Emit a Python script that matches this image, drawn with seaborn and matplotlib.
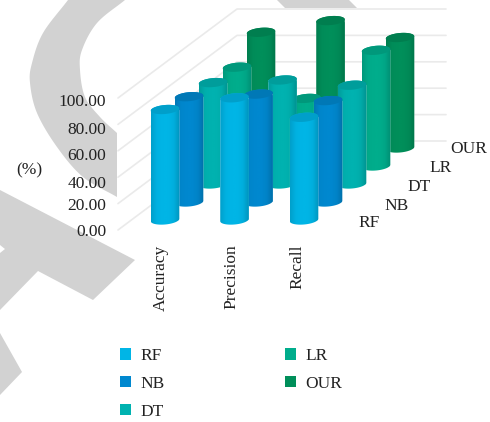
import numpy as np
import pandas as pd
import matplotlib
matplotlib.use("Agg")
import matplotlib.pyplot as plt
from matplotlib.colors import LinearSegmentedColormap, to_rgb
from matplotlib.patches import Patch, Polygon
import seaborn as sns

# ---- values -------------------------------------------------------------
metrics = ["Accuracy", "Precision", "Recall"]
models = ["RF", "NB", "DT", "LR", "OUR"]
rf_scores = [85, 94, 79]
nb_scores = [81, 83, 78]
dt_scores = [78, 80, 76]
lr_scores = [76, 52, 89]
our_scores = [89, 98, 85]
model_colors = ["#00B5E6", "#0088CF", "#00B2B0", "#00AD8C", "#008F5A"]
value_ticks = [0, 20, 40, 60, 80, 100]

scores = pd.DataFrame(
    {"metric": metrics * 5,
     "model": np.repeat(models, 3),
     "score": rf_scores + nb_scores + dt_scores + lr_scores + our_scores}
)

# ---- layout, in pixels ---------------------------------------------------
W, H = 490, 422
PX_PER_UNIT = 1.3
SLOT = 69.5
BAR_PX = 28.5
FRONT_X, FRONT_Y = 165.0, 220.0
DEPTH_X, DEPTH_Y = 24.0, -18.0
ELLIPSE_PX = 9.0
TILT_PX = 1.2
Y_MARGIN = 12  # room above and below the value range for the rounded ends
FONT = 12.5
GRID = "#EAEAEA"
GRAY = "#D2D2D2"

sns.set_theme(style="white")
plt.rcParams["font.family"] = ["Liberation Serif", "DejaVu Serif"]
text_color = "#222222"

fig = plt.figure(figsize=(W / 100, H / 100), dpi=100)
fig.patch.set_facecolor("white")

# Backdrop axes in pixel coordinates: watermark shapes, walls, free labels
bg = fig.add_axes([0, 0, 1, 1])
bg.set_xlim(0, W)
bg.set_ylim(H, 0)
bg.axis("off")


def smooth(points, n=12):
    """Catmull-Rom curve through an open list of points."""
    p = np.array(points, dtype=float)
    p = np.vstack([2 * p[0] - p[1], p, 2 * p[-1] - p[-2]])
    out = []
    for i in range(1, len(p) - 2):
        for t in np.linspace(0, 1, n, endpoint=False):
            out.append(0.5 * (2 * p[i] + (p[i + 1] - p[i - 1]) * t
                              + (2 * p[i - 1] - 5 * p[i] + 4 * p[i + 1] - p[i + 2]) * t ** 2
                              + (3 * p[i] - p[i - 1] - 3 * p[i + 1] + p[i + 2]) * t ** 3))
    out.append(p[-2])
    return np.array(out)


arc_outer = [(68, 0), (43, 33), (32, 63), (30, 83), (37, 113), (57, 147), (83, 177), (117, 197)]
arc_inner = [(117, 133), (100, 117), (85, 97), (80, 70), (82, 50), (97, 23), (125, 0)]
watermark = [
    np.vstack([smooth(arc_outer), smooth(arc_inner)]),
    [(0, 190), (135, 260), (93, 300), (38, 271), (0, 310), (0, 253), (5, 249), (0, 245)],
    [(0, 333), (22, 372), (0, 395)],
    [(277, 0), (285, 8), (357, 8), (349, 0)],
]
for shape in watermark:
    bg.add_patch(Polygon(shape, closed=True, facecolor=GRAY, edgecolor="none", zorder=1))

# Gridlines run along the side wall and then across the back wall
for v in value_ticks:
    y_front = 230 - 1.32 * v
    y_back = y_front - 89
    bg.plot([118, 237, 446], [y_front, y_back, y_back], color=GRID, lw=1.2, zorder=2,
            solid_joinstyle="round")

# Value labels sit slightly unevenly along the wall
label_y = [231.5, 206.5, 183.5, 156.5, 129.5, 101.5]
for v, y in zip(value_ticks, label_y):
    bg.text(106, y, f"{v:.2f}", ha="right", va="center", fontsize=FONT, color=text_color, zorder=3)
bg.text(29, 170, "(%)", ha="center", va="center", fontsize=FONT, color=text_color, zorder=3)

# Depth-axis labels
series_left = [358, 384, 407, 429, 450]
series_y = [223, 206, 187, 168, 149]
for name, x, y in zip(models, series_left, series_y):
    bg.text(x, y, name, ha="left", va="center", fontsize=FONT, color=text_color, zorder=3)


def shade(color):
    """Horizontal colormap that gives a bar its rounded look."""
    c = np.array(to_rgb(color))
    return LinearSegmentedColormap.from_list(
        "cyl",
        [c * 0.88, c * 0.98, c, c, c * 0.96, c * 0.82],
    )


gradient = np.linspace(0, 1, 64).reshape(1, -1)
theta = np.linspace(0, np.pi, 40)
ax_width = SLOT * 3
ax_height = PX_PER_UNIT * (100 + 2 * Y_MARGIN)
bar_width = BAR_PX / SLOT
ry = ELLIPSE_PX / 2 / PX_PER_UNIT
tilt = TILT_PX / PX_PER_UNIT

# Series are drawn back to front, each on its own axes shifted along the depth direction
front_ax = None
for depth in range(len(models) - 1, -1, -1):
    name = models[depth]
    color = model_colors[depth]
    left_px = FRONT_X + depth * DEPTH_X - SLOT / 2
    base_px = FRONT_Y + depth * DEPTH_Y + Y_MARGIN * PX_PER_UNIT
    ax = fig.add_axes([left_px / W, 1 - base_px / H, ax_width / W, ax_height / H])
    ax.patch.set_alpha(0)
    sns.barplot(
        data=scores[scores["model"] == name], x="metric", y="score", order=metrics,
        color=color, saturation=1, width=bar_width, ax=ax, legend=False, errorbar=None,
    )
    for bar in list(ax.patches):
        x0, w, top = bar.get_x(), bar.get_width(), bar.get_height()
        cx = x0 + w / 2
        # Outline: front half of the base ellipse and rear half of the top ellipse
        xs = np.cos(theta) * w / 2
        bottom = np.column_stack([cx - xs, -ry * np.sin(theta) - tilt * np.cos(theta)])
        upper = np.column_stack([cx + xs, top + ry * np.sin(theta) + tilt * np.cos(theta)])
        body = Polygon(np.vstack([bottom, upper]), closed=True, transform=ax.transData,
                       facecolor="none", edgecolor="none")
        ax.add_patch(body)
        bar.set_clip_path(body)
        img = ax.imshow(gradient, extent=(x0, x0 + w, -ry * 2, top + ry * 2), aspect="auto",
                        cmap=shade(color), zorder=3, interpolation="bilinear")
        img.set_clip_path(body)
        # Darker lid
        t = np.linspace(0, 2 * np.pi, 60)
        lid = np.column_stack([cx + np.cos(t) * w / 2,
                               top + ry * np.sin(t) + tilt * np.cos(t)])
        c = np.array(to_rgb(color))
        ax.add_patch(Polygon(lid, closed=True, facecolor=c * 0.88, edgecolor="none", zorder=4))
    ax.set_xlim(-0.5, 2.5)
    ax.set_ylim(-Y_MARGIN, 100 + Y_MARGIN)
    ax.axis("off")
    front_ax = ax

# Metric names hang below the front row
for i, (metric, dx) in enumerate(zip(metrics, [-4, -3, -7])):
    front_ax.annotate(metric, xy=(i, 0), xycoords="data", xytext=(dx * 0.72, -24.5 * 0.72),
                      textcoords="offset points", rotation=90, ha="center", va="top",
                      fontsize=FONT, color=text_color, annotation_clip=False)

handles = [Patch(facecolor=c, edgecolor="none", label=m) for c, m in zip(model_colors, models)]
fig.legend(
    handles=handles, ncol=2, loc="upper left", bbox_to_anchor=(113 / W, 1 - 341 / H),
    bbox_transform=fig.transFigure, frameon=False, fontsize=FONT, handlelength=0.65,
    handleheight=0.65, handletextpad=0.55, labelspacing=0.68, columnspacing=6.9,
    labelcolor=text_color, borderpad=0.4, borderaxespad=0,
)

fig.savefig("out.png", dpi=100)
